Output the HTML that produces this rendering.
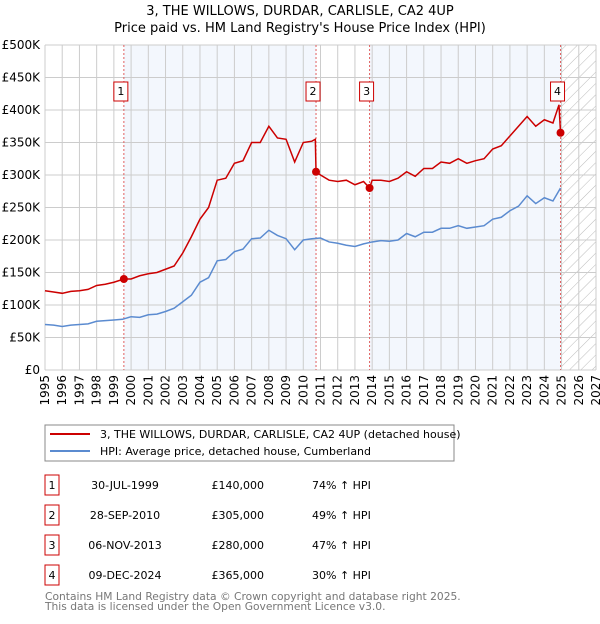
<!DOCTYPE html>
<html><head><meta charset="utf-8"><style>
body{margin:0;background:#fff;font-family:"DejaVu Sans","Liberation Sans",sans-serif;}
svg text{font-family:"DejaVu Sans","Liberation Sans",sans-serif;}
</style></head><body>
<svg id="c" width="600" height="620" viewBox="0 0 600 620">
<defs><pattern id="hatch" width="8" height="8" patternUnits="userSpaceOnUse" patternTransform="rotate(45)"><line x1="0" y1="0" x2="0" y2="8" stroke="#bbb" stroke-width="1"/></pattern></defs>
<text x="300" y="15" text-anchor="middle" font-size="13">3, THE WILLOWS, DURDAR, CARLISLE, CA2 4UP</text>
<text x="300" y="32" text-anchor="middle" font-size="13">Price paid vs. HM Land Registry's House Price Index (HPI)</text>
<g id="plot"></g>
<rect x="45" y="425" width="409" height="36" fill="#fff" stroke="#888"/>
<line x1="50" y1="434" x2="90" y2="434" stroke="#cc0000" stroke-width="2"/>
<text x="100" y="438" font-size="11">3, THE WILLOWS, DURDAR, CARLISLE, CA2 4UP (detached house)</text>
<line x1="50" y1="451" x2="90" y2="451" stroke="#5b8bd0" stroke-width="2"/>
<text x="100" y="455" font-size="11">HPI: Average price, detached house, Cumberland</text>
<g id="table" font-size="11"></g>
<text x="45" y="600" font-size="10.7" fill="#777">Contains HM Land Registry data © Crown copyright and database right 2025.</text>
<text x="45" y="610" font-size="10.7" fill="#777">This data is licensed under the Open Government Licence v3.0.</text>
</svg>
<script>
const hpiYears=[1995,1995.5,1996,1996.5,1997,1997.5,1998,1998.5,1999,1999.5,2000,2000.5,2001,2001.5,2002,2002.5,2003,2003.5,2004,2004.5,2005,2005.5,2006,2006.5,2007,2007.5,2008,2008.5,2009,2009.5,2010,2010.5,2011,2011.5,2012,2012.5,2013,2013.5,2014,2014.5,2015,2015.5,2016,2016.5,2017,2017.5,2018,2018.5,2019,2019.5,2020,2020.5,2021,2021.5,2022,2022.5,2023,2023.5,2024,2024.5,2024.94];
const hpiValues=[70,69,67,69,70,71,75,76,77,78,82,81,85,86,90,95,105,115,135,142,168,170,182,186,202,203,215,207,202,185,200,202,203,197,195,192,190,194,197,199,198,200,210,205,212,212,218,218,222,218,220,222,232,235,245,252,268,256,265,260,280];
const propYears=[1995,1995.5,1996,1996.5,1997,1997.5,1998,1998.5,1999,1999.58,2000,2000.5,2001,2001.5,2002,2002.5,2003,2003.5,2004,2004.5,2005,2005.5,2006,2006.5,2007,2007.5,2008,2008.5,2009,2009.5,2010,2010.5,2010.7,2010.74,2011,2011.5,2012,2012.5,2013,2013.5,2013.85,2014,2014.5,2015,2015.5,2016,2016.5,2017,2017.5,2018,2018.5,2019,2019.5,2020,2020.5,2021,2021.5,2022,2022.5,2023,2023.5,2024,2024.5,2024.85,2024.94];
const propValues=[122,120,118,121,122,124,130,132,135,140,140,145,148,150,155,160,180,205,232,250,292,295,318,322,350,350,375,357,355,320,350,352,355,305,300,292,290,292,285,290,280,292,292,290,295,305,298,310,310,320,318,325,318,322,325,340,345,360,375,390,375,385,380,408,365];
const saleYears=[1999.58,2010.74,2013.85,2024.94];
const saleValues=[140,305,280,365];
const saleLabels=["1","2","3","4"];
const saleDates=["30-JUL-1999","28-SEP-2010","06-NOV-2013","09-DEC-2024"];
const salePrices=["£140,000","£305,000","£280,000","£365,000"];
const saleHpi=["74% ↑ HPI","49% ↑ HPI","47% ↑ HPI","30% ↑ HPI"];
const yTicks=[0,50,100,150,200,250,300,350,400,450,500];
const yTickLabels=["£0","£50K","£100K","£150K","£200K","£250K","£300K","£350K","£400K","£450K","£500K"];
const xTicks=[1995,1996,1997,1998,1999,2000,2001,2002,2003,2004,2005,2006,2007,2008,2009,2010,2011,2012,2013,2014,2015,2016,2017,2018,2019,2020,2021,2022,2023,2024,2025,2026,2027];

const X0=45,X1=596,Y0=370,Y1=45;
const x=v=>X0+(v-1995)/(2027-1995)*(X1-X0);
const y=v=>Y0-v/500*(Y0-Y1);
const NS="http://www.w3.org/2000/svg";
const g=document.getElementById('plot');
function mk(t,a,p){const e=document.createElementNS(NS,t);for(const k in a)e.setAttribute(k,a[k]);(p||g).appendChild(e);return e;}

let r=mk('rect',{x:x(saleYears[0]),y:Y1,width:x(saleYears[1])-x(saleYears[0]),height:Y0-Y1,fill:'#eef3fc',opacity:0.7});


r=mk('rect',{x:x(saleYears[2]),y:Y1,width:x(saleYears[3])-x(saleYears[2]),height:Y0-Y1,fill:'#eef3fc',opacity:0.7});


r=mk('rect',{x:x(2025),y:Y1,width:x(2027)-x(2025),height:Y0-Y1,fill:'url(#hatch)'});



xTicks.forEach((t,i)=>{
 const l=mk('line',{x1:x(t),x2:x(t),y1:Y1,y2:Y0,stroke:'#ccc','stroke-width':1});
 
 
 const tx=mk('text',{x:0,y:0,'font-size':12,'text-anchor':'end',transform:`translate(${x(t)+4},${Y0+5}) rotate(-90)`});
 tx.textContent=t;
 
 
});
yTicks.forEach((t,i)=>{
 const l=mk('line',{x1:X0,x2:X1,y1:y(t),y2:y(t),stroke:'#ccc','stroke-width':1});
 
 
 const tx=mk('text',{x:X0-5,y:y(t)+4,'font-size':12,'text-anchor':'end'});
 tx.textContent=yTickLabels[i];
 
 
});
saleYears.forEach((s,i)=>{
 const l=mk('line',{x1:x(s),x2:x(s),y1:Y1,y2:Y0,stroke:'#e06060','stroke-width':1,'stroke-dasharray':'2,2'});
 
 
});
let p=mk('polyline',{points:hpiYears.map((v,i)=>x(v)+','+y(hpiValues[i])).join(' '),fill:'none',stroke:'#5b8bd0','stroke-width':1.5});


p=mk('polyline',{points:propYears.map((v,i)=>x(v)+','+y(propValues[i])).join(' '),fill:'none',stroke:'#cc0000','stroke-width':1.5});


saleYears.forEach((s,i)=>{
 const c=mk('circle',{cx:x(s),cy:y(saleValues[i]),r:4,fill:'#cc0000'});
 
 
 const b=mk('rect',{x:x(s)-10,y:82,width:14,height:19,fill:'#fff',stroke:'#cc0000'});
 
 
 const t=mk('text',{x:x(s)-3,y:95,'font-size':11,'text-anchor':'middle'});
 t.textContent=saleLabels[i];
 
 
});
const tb=document.getElementById('table');
saleYears.forEach((s,i)=>{
 const cy=483+i*30;
 const b=mk('rect',{x:45,y:cy-8,width:14,height:20,fill:'#fff',stroke:'#cc0000'},tb);
 
 
 const cells=[[52,'middle',saleLabels[i],'table-row-number'],[125,'middle',saleDates[i],'table-sale-date'],[264,'end',salePrices[i],'table-sale-price'],[312,'start',saleHpi[i],'table-hpi-change']];
 cells.forEach(c=>{
  const t=mk('text',{x:c[0],y:cy+6,'text-anchor':c[1]},tb);
  t.textContent=c[2];
  
  
 });
});
</script>
</body></html>
